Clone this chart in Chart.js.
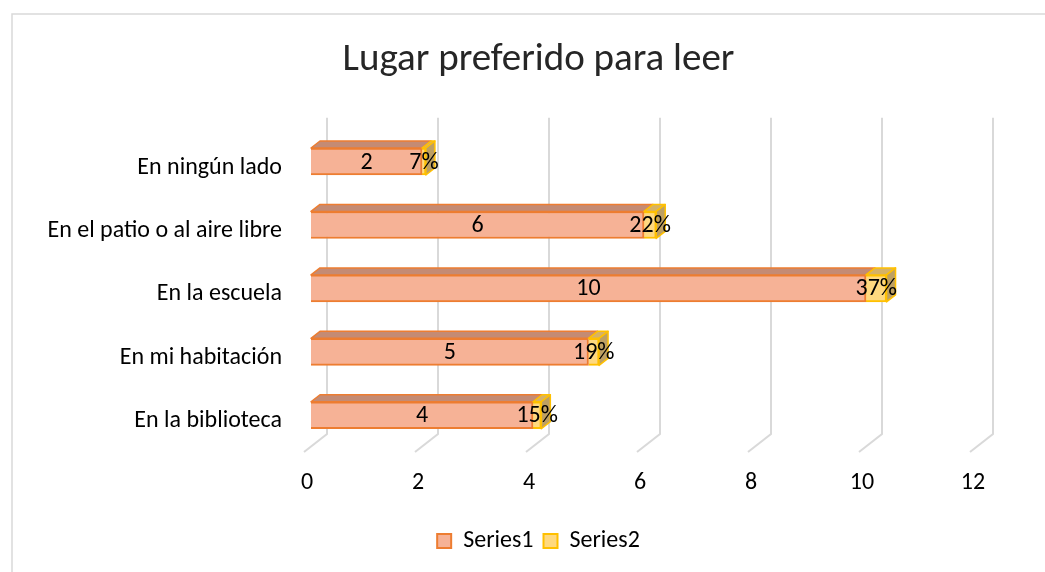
<!DOCTYPE html>
<html>
<head>
<meta charset="utf-8">
<script src="https://cdn.jsdelivr.net/npm/chart.js@4.4.1/dist/chart.umd.min.js"></script>
<style>
  html, body { margin: 0; padding: 0; background: #fff; }
</style>
</head>
<body>
<canvas id="chart" width="1045" height="572"></canvas>
<script>
// values
const categories = ['En ningún lado', 'En el patio o al aire libre', 'En la escuela', 'En mi habitación', 'En la biblioteca'];
const series1 = [2, 6, 10, 5, 4];
const series2 = [0.07, 0.22, 0.37, 0.19, 0.15];
const xTicks = [0, 2, 4, 6, 8, 10, 12];

const FONT = 'Calibri, Carlito, Lato, "Open Sans", sans-serif';
const depth = { dx: 9, dy: 7 };
const faceColors = [
  { top: '#c48b74', side: '#b0705a', stroke: '#ed7d31' },
  { top: '#d6b266', side: '#bea062', stroke: '#ffc000' }
];

// white background + the light frame of the chart
const frame = {
  id: 'frame',
  beforeDraw(chart) {
    const { ctx, width, height } = chart;
    ctx.save();
    ctx.fillStyle = '#fff';
    ctx.fillRect(0, 0, width, height);
    ctx.strokeStyle = '#d9d9d9';
    ctx.lineWidth = 1.5;
    ctx.beginPath();
    ctx.moveTo(12, height);
    ctx.lineTo(12, 14);
    ctx.lineTo(width, 14);
    ctx.stroke();
    ctx.restore();
  }
};

// 3D-looking gridlines, bar top/side faces and data labels
const bars3d = {
  id: 'bars3d',
  beforeDatasetsDraw(chart) {
    const { ctx, chartArea, scales: { x } } = chart;
    ctx.save();
    ctx.strokeStyle = '#d9d9d9';
    ctx.lineWidth = 2;
    xTicks.forEach(v => {
      const px = x.getPixelForValue(v);
      ctx.beginPath();
      ctx.moveTo(px + 16, chartArea.top - 12);
      ctx.lineTo(px + 16, chartArea.bottom - 13);
      ctx.lineTo(px - 7, chartArea.bottom + 5);
      ctx.stroke();
    });
    ctx.restore();
  },
  afterDatasetsDraw(chart) {
    const { ctx } = chart;
    const { dx, dy } = depth;
    ctx.save();
    ctx.lineWidth = 1.5;
    ctx.lineJoin = 'round';
    chart.data.datasets.forEach((ds, di) => {
      const meta = chart.getDatasetMeta(di);
      const c = faceColors[di];
      meta.data.forEach(el => {
        const { x, y, base, height } = el.getProps(['x', 'y', 'base', 'height'], true);
        const top = y - height / 2, bottom = y + height / 2;
        ctx.strokeStyle = c.stroke;
        ctx.fillStyle = c.top;
        ctx.beginPath();
        ctx.moveTo(base, top);
        ctx.lineTo(base + dx, top - dy);
        ctx.lineTo(x + dx, top - dy);
        ctx.lineTo(x, top);
        ctx.closePath();
        ctx.fill();
        ctx.stroke();
        if (di === chart.data.datasets.length - 1) {
          ctx.fillStyle = c.side;
          ctx.beginPath();
          ctx.moveTo(x, top);
          ctx.lineTo(x + dx, top - dy);
          ctx.lineTo(x + dx, bottom - dy);
          ctx.lineTo(x, bottom);
          ctx.closePath();
          ctx.fill();
          ctx.stroke();
        }
      });
    });
    // data labels
    ctx.fillStyle = '#000';
    ctx.font = '24px ' + FONT;
    ctx.textAlign = 'center';
    ctx.textBaseline = 'middle';
    chart.data.datasets.forEach((ds, di) => {
      const meta = chart.getDatasetMeta(di);
      meta.data.forEach((el, i) => {
        const { x, y, base } = el.getProps(['x', 'y', 'base'], true);
        const v = ds.data[i];
        const txt = di === 0 ? String(v) : Math.round(v * 100) + '%';
        ctx.fillText(txt, (x + base) / 2, y + 1);
      });
    });
    ctx.restore();
  }
};

new Chart(document.getElementById('chart'), {
  type: 'bar',
  data: {
    labels: categories,
    datasets: [
      {
        label: 'Series1',
        data: series1,
        backgroundColor: '#f6b296',
        borderColor: '#ed7d31',
        borderWidth: 2,
        barThickness: 27
      },
      {
        label: 'Series2',
        data: series2,
        backgroundColor: '#ffd97f',
        borderColor: '#ffc000',
        borderWidth: 2,
        barThickness: 27
      }
    ]
  },
  options: {
    indexAxis: 'y',
    responsive: false,
    animation: false,
    layout: { padding: { left: 32, right: 0, top: 0, bottom: 9 } },
    scales: {
      x: {
        stacked: true,
        min: 0,
        max: 12,
        ticks: {
          stepSize: 2,
          color: '#000',
          font: { family: FONT, size: 24 },
          padding: 22,
          labelOffset: -4
        },
        grid: { display: false, drawTicks: false },
        border: { display: false },
        afterFit: s => { s.height = 72; }
      },
      y: {
        stacked: true,
        ticks: {
          color: '#000',
          font: { family: FONT, size: 24 },
          padding: 29,
          labelOffset: 6
        },
        grid: { display: false, drawTicks: false },
        border: { display: false },
        afterFit: s => { s.width = 279; }
      },
      spacer: {
        axis: 'y',
        type: 'linear',
        position: 'right',
        display: true,
        ticks: { display: false },
        grid: { display: false, drawTicks: false },
        border: { display: false },
        afterFit: s => { s.width = 68; }
      }
    },
    plugins: {
      title: {
        display: true,
        text: 'Lugar preferido para leer',
        color: '#262626',
        font: { family: FONT, size: 39, weight: 'normal' },
        padding: { top: 37, bottom: 46 }
      },
      legend: {
        position: 'bottom',
        labels: {
          color: '#000',
          font: { family: FONT, size: 24 },
          boxWidth: 14,
          boxHeight: 14,
          padding: 10
        }
      },
      tooltip: { enabled: false }
    }
  },
  plugins: [frame, bars3d]
});
</script>
</body>
</html>
